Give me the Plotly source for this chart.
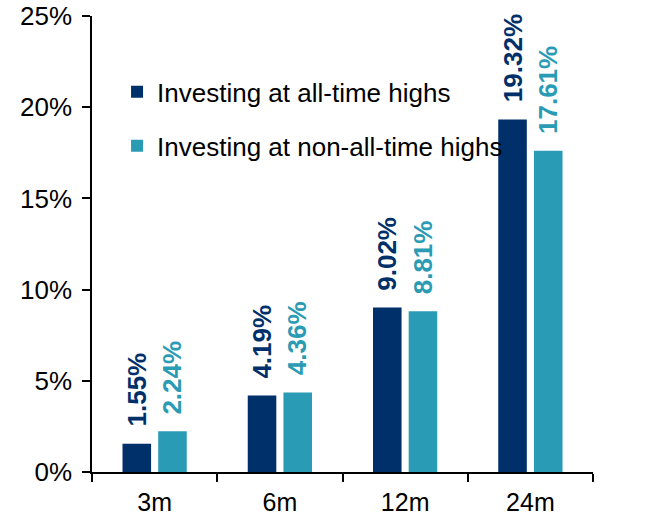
import plotly.graph_objects as go

# Holding-period returns, grouped by entry condition
periods = ["3m", "6m", "12m", "24m"]
ath_returns = [1.55, 4.19, 9.02, 19.32]
non_ath_returns = [2.24, 4.36, 8.81, 17.61]
series_names = ["Investing at all-time highs", "Investing at non-all-time highs"]
y_ticks = [0, 5, 10, 15, 20, 25]

NAVY = "#00306A"
TEAL = "#2A9BB4"
FONT = "Liberation Sans, Arial, sans-serif"

W, H = 647, 518
M = dict(l=92, r=54, t=16, b=46)
BARGAP = 0.43
BARGROUPGAP = 0.2

fig = go.Figure()
for name, vals, col in [(series_names[0], ath_returns, NAVY),
                        (series_names[1], non_ath_returns, TEAL)]:
    fig.add_trace(go.Bar(x=periods, y=vals, name=name, marker_color=col,
                         marker_line_width=0, legendgroup=name))

# value labels above each bar, rotated
plot_w = W - M["l"] - M["r"]
slot = plot_w / len(periods) * (1 - BARGAP) / 2
for vals, col, side in [(ath_returns, NAVY, -1), (non_ath_returns, TEAL, 1)]:
    for p, v in zip(periods, vals):
        fig.add_annotation(x=p, y=v, xref="x", yref="y", text=f"<b>{v:.2f}%</b>",
                           textangle=-90, showarrow=False, xanchor="center",
                           yanchor="bottom", xshift=side * slot / 2, yshift=15,
                           font=dict(family=FONT, size=26, color=col))

fig.update_layout(
    width=W, height=H, margin=M,
    paper_bgcolor="white", plot_bgcolor="white",
    barmode="group", bargap=BARGAP, bargroupgap=BARGROUPGAP,
    font=dict(family=FONT, size=25, color="black"),
    showlegend=True,
    legend=dict(x=0.05, y=0.885, xanchor="left", yanchor="top",
                font=dict(family=FONT, size=26, color="black"),
                bgcolor="rgba(0,0,0,0)", tracegroupgap=17, traceorder="grouped"),
)
fig.update_xaxes(showline=True, linecolor="black", linewidth=1.5,
                 ticks="outside", tickson="boundaries", ticklen=8,
                 tickcolor="black", tickwidth=1.5, showgrid=False,
                 range=[-0.5, 3.5], tickfont=dict(size=25), automargin=False,
                 ticklabelstandoff=7)
fig.update_yaxes(range=[0, 25], tickvals=y_ticks,
                 ticktext=[f"{t}%" for t in y_ticks], showline=True,
                 linecolor="black", linewidth=1.5, ticks="outside", ticklen=8,
                 tickcolor="black", tickwidth=1.5, showgrid=False,
                 zeroline=False, tickfont=dict(size=26), automargin=False,
                 ticklabelstandoff=5)

fig.write_html("out.html")
